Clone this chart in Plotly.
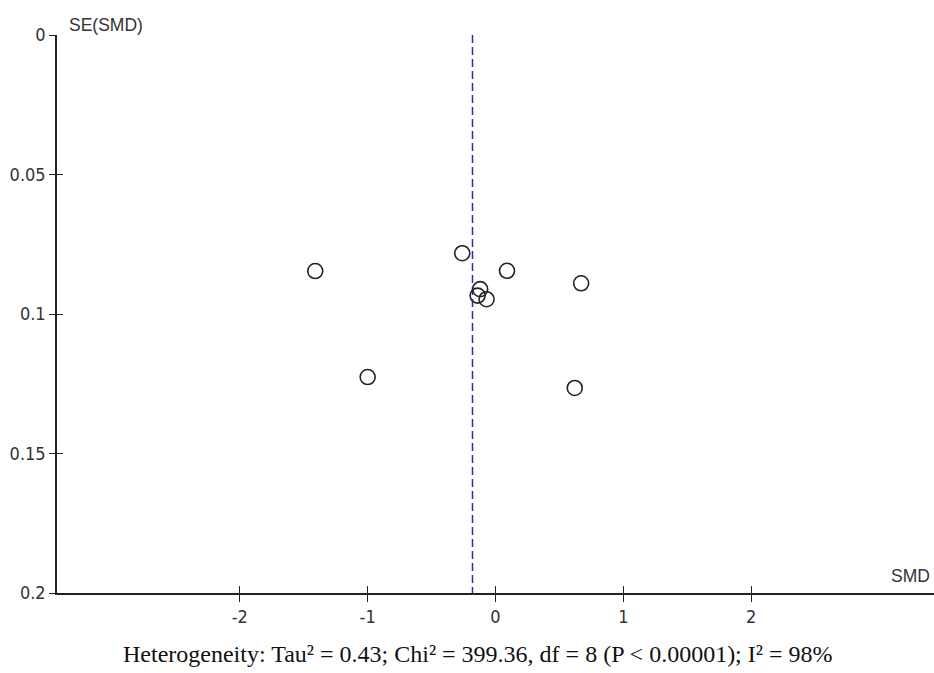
import plotly.graph_objects as go

smd = [-1.41, -0.26, 0.09, 0.67, -0.12, -0.14, -0.07, -1.00, 0.62]
se = [0.0846, 0.0782, 0.0845, 0.0890, 0.0911, 0.0934, 0.0947, 0.1226, 0.1265]
pooled_smd = -0.18
se_range = [0.0, 0.2]
x_ticks = [-2, -1, 0, 1, 2]
y_ticks = [0, 0.05, 0.1, 0.15, 0.2]
y_tick_labels = ["0", "0.05", "0.1", "0.15", "0.2"]
footnote = "Heterogeneity: Tau\u00b2 = 0.43; Chi\u00b2 = 399.36, df = 8 (P < 0.00001); I\u00b2 = 98%"

fig = go.Figure()
fig.add_trace(go.Scatter(
    x=[pooled_smd, pooled_smd], y=se_range, mode="lines",
    line=dict(color="#2b2bb8", width=1.5, dash="8px,4px"), hoverinfo="skip"))
fig.add_trace(go.Scatter(
    x=smd, y=se, mode="markers",
    marker=dict(symbol="circle-open", size=15, color="#222222", line=dict(width=1.6, color="#222222"))))
fig.add_trace(go.Scatter(x=[None], y=[None], xaxis="x2", yaxis="y2", showlegend=False))

narrow = "Liberation Sans Narrow, Arial Narrow, DejaVu Sans Condensed, Arial"
tickfont = dict(family=narrow, size=18, color="#333333")
titlefont = dict(family="Liberation Sans, Arial", size=17.5, color="#333333")
fig.update_layout(
    width=934, height=673,
    margin=dict(l=57, r=0, t=35, b=80),
    paper_bgcolor="white", plot_bgcolor="white",
    showlegend=False,
    xaxis=dict(range=[-3.43, 3.43], tickvals=x_ticks, ticktext=[str(v) for v in x_ticks],
               showgrid=False, zeroline=False, showline=True, linecolor="#222222", linewidth=1.5,
               ticks="outside", ticklen=7, tickwidth=1.2, tickcolor="#222222",
               tickfont=tickfont, anchor="y"),
    yaxis=dict(range=[0.2, 0.0], tickvals=y_ticks, ticktext=y_tick_labels,
               showgrid=False, zeroline=False, showline=True, linecolor="#222222", linewidth=1.5,
               ticks="outside", ticklen=6, tickwidth=1.2, tickcolor="#222222",
               tickfont=tickfont, anchor="x"),
    xaxis2=dict(range=[-3.43, 3.43], overlaying="x", tickvals=x_ticks, showticklabels=False,
                showgrid=False, zeroline=False, showline=False,
                ticks="inside", ticklen=7, tickwidth=1.2, tickcolor="#222222", anchor="y2"),
    yaxis2=dict(range=[0.2, 0.0], overlaying="y", tickvals=y_ticks, showticklabels=False,
                showgrid=False, zeroline=False, showline=False,
                ticks="inside", ticklen=6, tickwidth=1.2, tickcolor="#222222", anchor="x2"),
    annotations=[
        dict(text="SE(SMD)", xref="paper", yref="paper", x=0.011, y=1.0, xanchor="left", yanchor="bottom",
             showarrow=False, font=titlefont, yshift=-2),
        dict(text="SMD", xref="paper", yref="paper", x=1.0, y=0.0, xanchor="right", yanchor="bottom",
             showarrow=False, font=titlefont, yshift=5, xshift=-2),
        dict(text=footnote, xref="paper", yref="paper", x=0.0, y=0.0, xanchor="left", yanchor="top",
             showarrow=False, font=dict(family="Liberation Serif, Times New Roman", size=24, color="#111111"),
             yshift=-46, xshift=64),
    ],
)
fig.write_html("out.html", config={"displayModeBar": False},
               post_script="document.body.style.margin='0';document.body.style.padding='0';")
